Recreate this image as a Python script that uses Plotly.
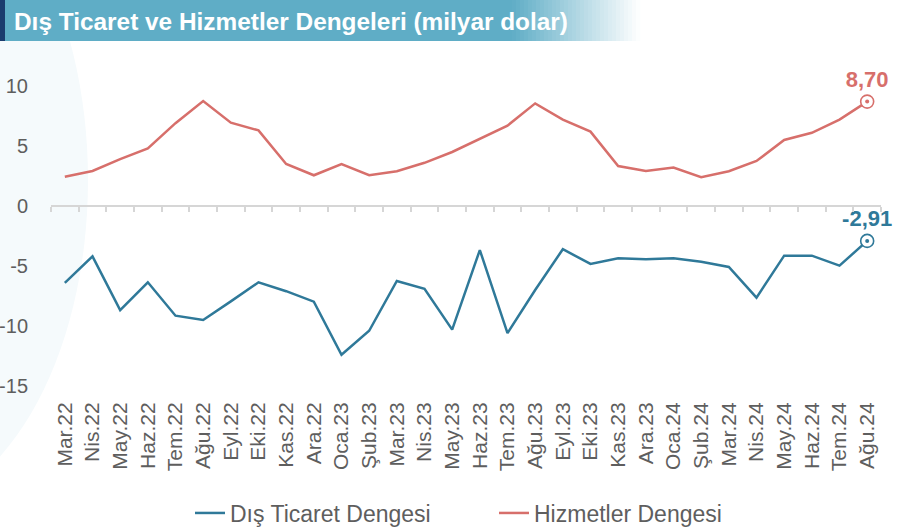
import plotly.graph_objects as go

months = ["Mar.22","Nis.22","May.22","Haz.22","Tem.22","Ağu.22","Eyl.22","Eki.22","Kas.22","Ara.22",
          "Oca.23","Şub.23","Mar.23","Nis.23","May.23","Haz.23","Tem.23","Ağu.23","Eyl.23","Eki.23",
          "Kas.23","Ara.23","Oca.24","Şub.24","Mar.24","Nis.24","May.24","Haz.24","Tem.24","Ağu.24"]

dis_ticaret = [-6.4, -4.2, -8.67, -6.36, -9.14, -9.5, -7.95, -6.36, -7.1, -7.97,
               -12.4, -10.4, -6.25, -6.9, -10.3, -3.67, -10.6, -7.0, -3.6, -4.83,
               -4.36, -4.44, -4.36, -4.64, -5.08, -7.64, -4.14, -4.14, -4.97, -2.91]

hizmetler = [2.44, 2.92, 3.9, 4.8, 6.9, 8.75, 6.94, 6.3, 3.5, 2.56,
             3.5, 2.56, 2.9, 3.6, 4.5, 5.6, 6.7, 8.55, 7.2, 6.2,
             3.33, 2.92, 3.2, 2.4, 2.9, 3.75, 5.5, 6.1, 7.2, 8.70]

y_ticks = [-15, -10, -5, 0, 5, 10]
y_ticktext = ["-15", "-10", "-5", "0", "5", "10"]
y_range = [-15, 12]

BLUE = "#2f7999"
RED = "#d76f6b"
GRAY = "#5e5e5e"
AXIS = "#d6d6d6"
FONT = "Liberation Sans, Arial, sans-serif"

W_PX, H_PX = 898, 527
L, R, T, B = 51, 17, 62, 141
PW, PH = W_PX - L - R, H_PX - T - B


def px(x):
    return (x - L) / PW


def py(y):
    return (H_PX - B - y) / PH


def fmt(v):
    return f"{v:.2f}".replace(".", ",")


fig = go.Figure()

fig.add_trace(go.Scatter(x=months, y=dis_ticaret, mode="lines", name="Dış Ticaret Dengesi",
                         line=dict(color=BLUE, width=2.5)))
fig.add_trace(go.Scatter(x=months, y=hizmetler, mode="lines", name="Hizmetler Dengesi",
                         line=dict(color=RED, width=2.5)))

for series, col in ((dis_ticaret, BLUE), (hizmetler, RED)):
    fig.add_trace(go.Scatter(x=[months[-1]], y=[series[-1]], mode="markers+text",
                             text=[fmt(series[-1])], textposition="top center",
                             textfont=dict(color=col, size=22, family=FONT, weight="bold"),
                             marker=dict(symbol="circle", size=13, color="white",
                                         line=dict(color=col, width=1.6)),
                             showlegend=False, hoverinfo="skip", cliponaxis=False))
    fig.add_trace(go.Scatter(x=[months[-1]], y=[series[-1]], mode="markers",
                             marker=dict(symbol="circle", size=4, color=col),
                             showlegend=False, hoverinfo="skip", cliponaxis=False))

# invisible trace to carry the zero-line axis with boundary ticks
fig.add_trace(go.Scatter(x=months, y=[None] * len(months), xaxis="x2", showlegend=False,
                         hoverinfo="skip", mode="lines"))

zero_pos = (0 - y_range[0]) / (y_range[1] - y_range[0])

shapes = [
    # faint decorative arc
    dict(type="circle", xref="paper", yref="paper", x0=px(-300), x1=px(88), y0=py(510), y1=py(-150),
         fillcolor="#f5fafc", line=dict(width=0), layer="below"),
    # title banner
    dict(type="rect", xref="paper", yref="paper", x0=px(0), x1=px(512), y0=py(41), y1=py(0),
         fillcolor="#5fadc6", line=dict(width=0), layer="below"),
]
n_steps = 32
c0 = (0x5f, 0xad, 0xc6)
for i in range(n_steps):
    t = (i + 0.5) / n_steps
    c = tuple(int(round(a + (255 - a) * t)) for a in c0)
    shapes.append(dict(type="rect", xref="paper", yref="paper",
                       x0=px(512 + 128 * i / n_steps), x1=px(512 + 128 * (i + 1) / n_steps + 0.5),
                       y0=py(41), y1=py(0), fillcolor="rgb(%d,%d,%d)" % c, line=dict(width=0),
                       layer="below"))
shapes.append(dict(type="rect", xref="paper", yref="paper", x0=px(0), x1=px(5), y0=py(41), y1=py(0),
                   fillcolor="#1b3c6e", line=dict(width=0), layer="below"))

fig.update_layout(
    width=W_PX, height=H_PX,
    margin=dict(l=L, r=R, t=T, b=B, autoexpand=False),
    paper_bgcolor="white", plot_bgcolor="rgba(0,0,0,0)",
    font=dict(family=FONT, color=GRAY, size=21),
    shapes=shapes,
    annotations=[dict(text="<b>Dış Ticaret ve Hizmetler Dengeleri (milyar dolar)</b>",
                      xref="paper", yref="paper", x=px(12), y=py(21), xanchor="left", yanchor="middle",
                      showarrow=False, font=dict(color="white", size=24.4, family=FONT))],
    xaxis=dict(type="category", categoryorder="array", categoryarray=months, range=[-0.5, len(months) - 0.5],
               tickangle=-90, showgrid=False, showline=False, zeroline=False,
               ticks="outside", ticklen=7, tickcolor="rgba(0,0,0,0)",
               automargin=False, tickfont=dict(size=21, color=GRAY, family=FONT)),
    xaxis2=dict(type="category", categoryorder="array", categoryarray=months, range=[-0.5, len(months) - 0.5],
                overlaying="x", anchor="free", position=zero_pos, side="bottom",
                showticklabels=False, showgrid=False, zeroline=False, automargin=False,
                showline=True, linecolor=AXIS, linewidth=2,
                ticks="outside", tickson="boundaries", ticklen=5, tickcolor=AXIS, tickwidth=1.5),
    yaxis=dict(range=y_range, tickvals=y_ticks, ticktext=y_ticktext, showgrid=False, zeroline=False,
               showline=False, ticks="outside", ticklen=18, tickcolor="rgba(0,0,0,0)", automargin=False,
               tickfont=dict(size=20, color=GRAY, family=FONT)),
    legend=dict(orientation="h", x=px(190), xanchor="left", y=py(513), yanchor="middle",
                entrywidth=259, entrywidthmode="pixels",
                font=dict(size=23, color=GRAY, family=FONT), bgcolor="rgba(0,0,0,0)"),
    showlegend=True,
)

fig.write_html("out.html", config={"displayModeBar": False},
               post_script="document.body.style.margin='0';document.body.style.overflow='hidden';")
